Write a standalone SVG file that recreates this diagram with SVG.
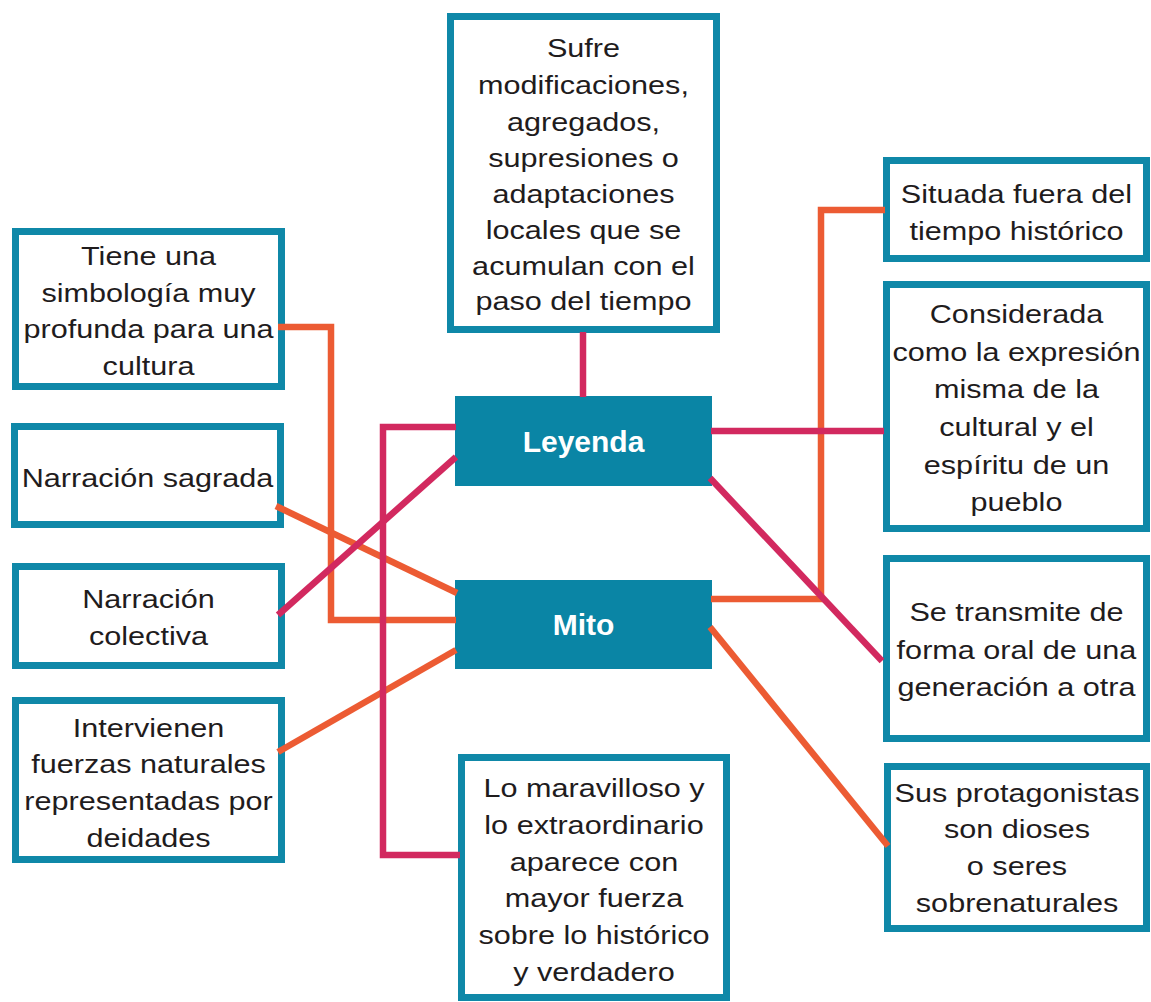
<svg xmlns="http://www.w3.org/2000/svg" width="1151" height="1002" viewBox="0 0 1151 1002">
<style>
.box{fill:#ffffff;stroke:#0f88a8;stroke-width:7}
.main{fill:#0a85a5}
.t{font-family:"Liberation Sans",Arial,sans-serif;font-size:25.5px;fill:#1f1c1d;text-anchor:middle}
.m{font-family:"Liberation Sans",Arial,sans-serif;font-size:30px;font-weight:bold;fill:#ffffff;text-anchor:middle}
.or{fill:none;stroke:#ec5b33;stroke-width:6.5}
.pk{fill:none;stroke:#d2295f;stroke-width:6.5}
</style>
<rect width="1151" height="1002" fill="#ffffff"/>
<g id="top">
<rect class="box" x="450.5" y="16.5" width="266" height="313"/>
<text class="t" transform="translate(583.5 0) scale(1.2 1)"><tspan x="0" y="57">Sufre</tspan><tspan x="0" y="94">modificaciones,</tspan><tspan x="0" y="131">agregados,</tspan><tspan x="0" y="167">supresiones o</tspan><tspan x="0" y="203">adaptaciones</tspan><tspan x="0" y="239">locales que se</tspan><tspan x="0" y="275">acumulan con el</tspan><tspan x="0" y="310">paso del tiempo</tspan></text>
</g>
<g id="leyenda">
<rect class="main" x="455" y="396" width="257" height="90"/>
<text class="m" x="583.5" y="452">Leyenda</text>
</g>
<g id="mito">
<rect class="main" x="455" y="580" width="257" height="89"/>
<text class="m" x="583.5" y="635">Mito</text>
</g>
<g id="simbologia">
<rect class="box" x="15.5" y="231.5" width="266" height="155"/>
<text class="t" transform="translate(148.5 0) scale(1.2 1)"><tspan x="0" y="265">Tiene una</tspan><tspan x="0" y="302">simbología muy</tspan><tspan x="0" y="338">profunda para una</tspan><tspan x="0" y="375">cultura</tspan></text>
</g>
<g id="sagrada">
<rect class="box" x="14.5" y="426.5" width="266" height="98"/>
<text class="t" transform="translate(147.5 0) scale(1.2 1)"><tspan x="0" y="487">Narración sagrada</tspan></text>
</g>
<g id="colectiva">
<rect class="box" x="15.5" y="566.5" width="266" height="99"/>
<text class="t" transform="translate(148.5 0) scale(1.2 1)"><tspan x="0" y="608">Narración</tspan><tspan x="0" y="645">colectiva</tspan></text>
</g>
<g id="fuerzas">
<rect class="box" x="15.5" y="700.5" width="266" height="159"/>
<text class="t" transform="translate(148.5 0) scale(1.2 1)"><tspan x="0" y="737">Intervienen</tspan><tspan x="0" y="773">fuerzas naturales</tspan><tspan x="0" y="810">representadas por</tspan><tspan x="0" y="847">deidades</tspan></text>
</g>
<g id="maravilloso">
<rect class="box" x="461.5" y="757.5" width="265" height="240"/>
<text class="t" transform="translate(594 0) scale(1.2 1)"><tspan x="0" y="797">Lo maravilloso y</tspan><tspan x="0" y="834">lo extraordinario</tspan><tspan x="0" y="871">aparece con</tspan><tspan x="0" y="907">mayor fuerza</tspan><tspan x="0" y="944">sobre lo histórico</tspan><tspan x="0" y="981">y verdadero</tspan></text>
</g>
<g id="situada">
<rect class="box" x="886.5" y="160.5" width="260" height="98"/>
<text class="t" transform="translate(1016.5 0) scale(1.2 1)"><tspan x="0" y="203">Situada fuera del</tspan><tspan x="0" y="240">tiempo histórico</tspan></text>
</g>
<g id="considerada">
<rect class="box" x="886.5" y="284.5" width="260" height="244"/>
<text class="t" transform="translate(1016.5 0) scale(1.2 1)"><tspan x="0" y="323">Considerada</tspan><tspan x="0" y="361">como la expresión</tspan><tspan x="0" y="398">misma de la</tspan><tspan x="0" y="436">cultural y el</tspan><tspan x="0" y="474">espíritu de un</tspan><tspan x="0" y="511">pueblo</tspan></text>
</g>
<g id="transmite">
<rect class="box" x="886.5" y="558.5" width="260" height="180"/>
<text class="t" transform="translate(1016.5 0) scale(1.2 1)"><tspan x="0" y="621">Se transmite de</tspan><tspan x="0" y="659">forma oral de una</tspan><tspan x="0" y="696">generación a otra</tspan></text>
</g>
<g id="protagonistas">
<rect class="box" x="887.5" y="766.5" width="259" height="162"/>
<text class="t" transform="translate(1017 0) scale(1.2 1)"><tspan x="0" y="802">Sus protagonistas</tspan><tspan x="0" y="838">son dioses</tspan><tspan x="0" y="875">o seres</tspan><tspan x="0" y="912">sobrenaturales</tspan></text>
</g>
<g id="connectors">
<polyline class="or" points="278,327 331,327 331,620 456,620"/>
<line class="or" x1="276" y1="506" x2="457" y2="593"/>
<line class="or" x1="278" y1="752" x2="456" y2="650"/>
<polyline class="or" points="711,599 821,599 821,210 885,210"/>
<line class="or" x1="710" y1="627" x2="888" y2="846"/>
<line class="pk" x1="583" y1="332" x2="583" y2="397"/>
<line class="pk" x1="711" y1="431" x2="884" y2="431"/>
<line class="pk" x1="710" y1="478" x2="882" y2="661"/>
<line class="pk" x1="278" y1="615" x2="456" y2="457"/>
<polyline class="pk" points="456,427 383,427 383,855 460,855"/>
</g>
</svg>
